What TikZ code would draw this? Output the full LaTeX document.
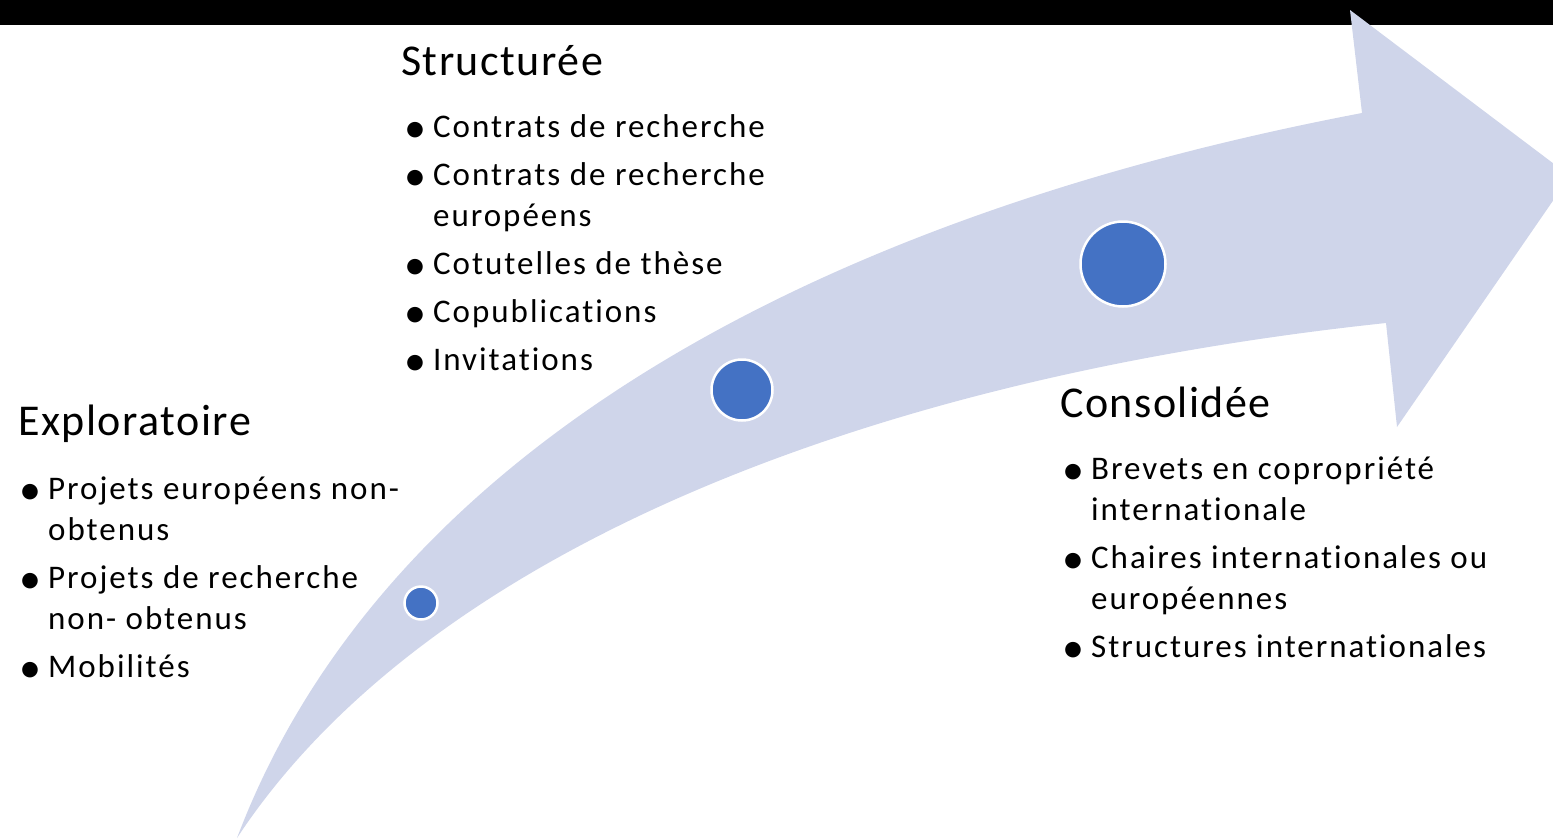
\documentclass[tikz,border=0pt]{standalone}
\usepackage{fontspec}
\setmainfont{Carlito}
\newfontfamily\stageface{Carlito}[LetterSpace=3.4,Ligatures=NoCommon]
\newfontfamily\listface{Carlito}[LetterSpace=6,Ligatures=NoCommon]
\definecolor{arrowfill}{HTML}{CFD5EA}
\definecolor{dotblue}{HTML}{4472C4}
\newcommand{\stagefont}{\stageface\fontsize{44}{52}\selectfont}
\newcommand{\listfont}{\listface\fontsize{33}{41}\selectfont}
\newcommand{\bul}{\makebox[25pt][l]{\hspace{-4pt}\raisebox{-5pt}{\fontsize{44}{41}\selectfont\textbullet}}}

\begin{document}
\begin{tikzpicture}[x=1pt,y=-1pt,
    stage/.style={anchor=base west, inner sep=0pt, font=\stagefont},
    itemlist/.style={anchor=north west, inner sep=0pt, font=\listfont},
    milestone/.style={circle, fill=dotblue, draw=white, line width=2.5pt, inner sep=0pt}]

\useasboundingbox (0,0) rectangle (1553,839);
\clip (0,0) rectangle (1553,839);

% Top band
\fill[black] (0,0) rectangle (1553,25);

% Curved arrow
\fill[arrowfill] (237,838) .. controls (380,460) and (800,220) .. (1362,113)
    -- (1350,10) -- (1570,176) -- (1397,427) -- (1386,323)
    .. controls (850,380) and (420,560) .. (237,838) -- cycle;

% Milestones
\node[milestone, minimum size=33pt] (dotA) at (421,603) {};
\node[milestone, minimum size=61pt] (dotB) at (742,390) {};
\node[milestone, minimum size=85pt] (dotC) at (1123,264) {};

% Exploratoire
\node[stage] (explo) at (18,435) {Exploratoire};
\node[itemlist] (exploList) at (23,471) {\begin{tabular}{@{}l@{}l@{}}
\bul & Projets européens non-\\
     & obtenus\\[7pt]
\bul & Projets de recherche\\
     & non- obtenus\\[7pt]
\bul & Mobilités
\end{tabular}};

% Structuree
\node[stage] (struct) at (401,75) {Structurée};
\node[itemlist] (structList) at (408,109) {\begin{tabular}{@{}l@{}l@{}}
\bul & Contrats de recherche\\[7pt]
\bul & Contrats de recherche\\
     & européens\\[7pt]
\bul & Cotutelles de thèse\\[7pt]
\bul & Copublications\\[7pt]
\bul & Invitations
\end{tabular}};

% Consolidee
\node[stage] (conso) at (1060,417) {Consolidée};
\node[itemlist] (consoList) at (1066,451) {\begin{tabular}{@{}l@{}l@{}}
\bul & Brevets en copropriété\\
     & internationale\\[7pt]
\bul & Chaires internationales ou\\
     & européennes\\[7pt]
\bul & Structures internationales
\end{tabular}};

\end{tikzpicture}
\end{document}
